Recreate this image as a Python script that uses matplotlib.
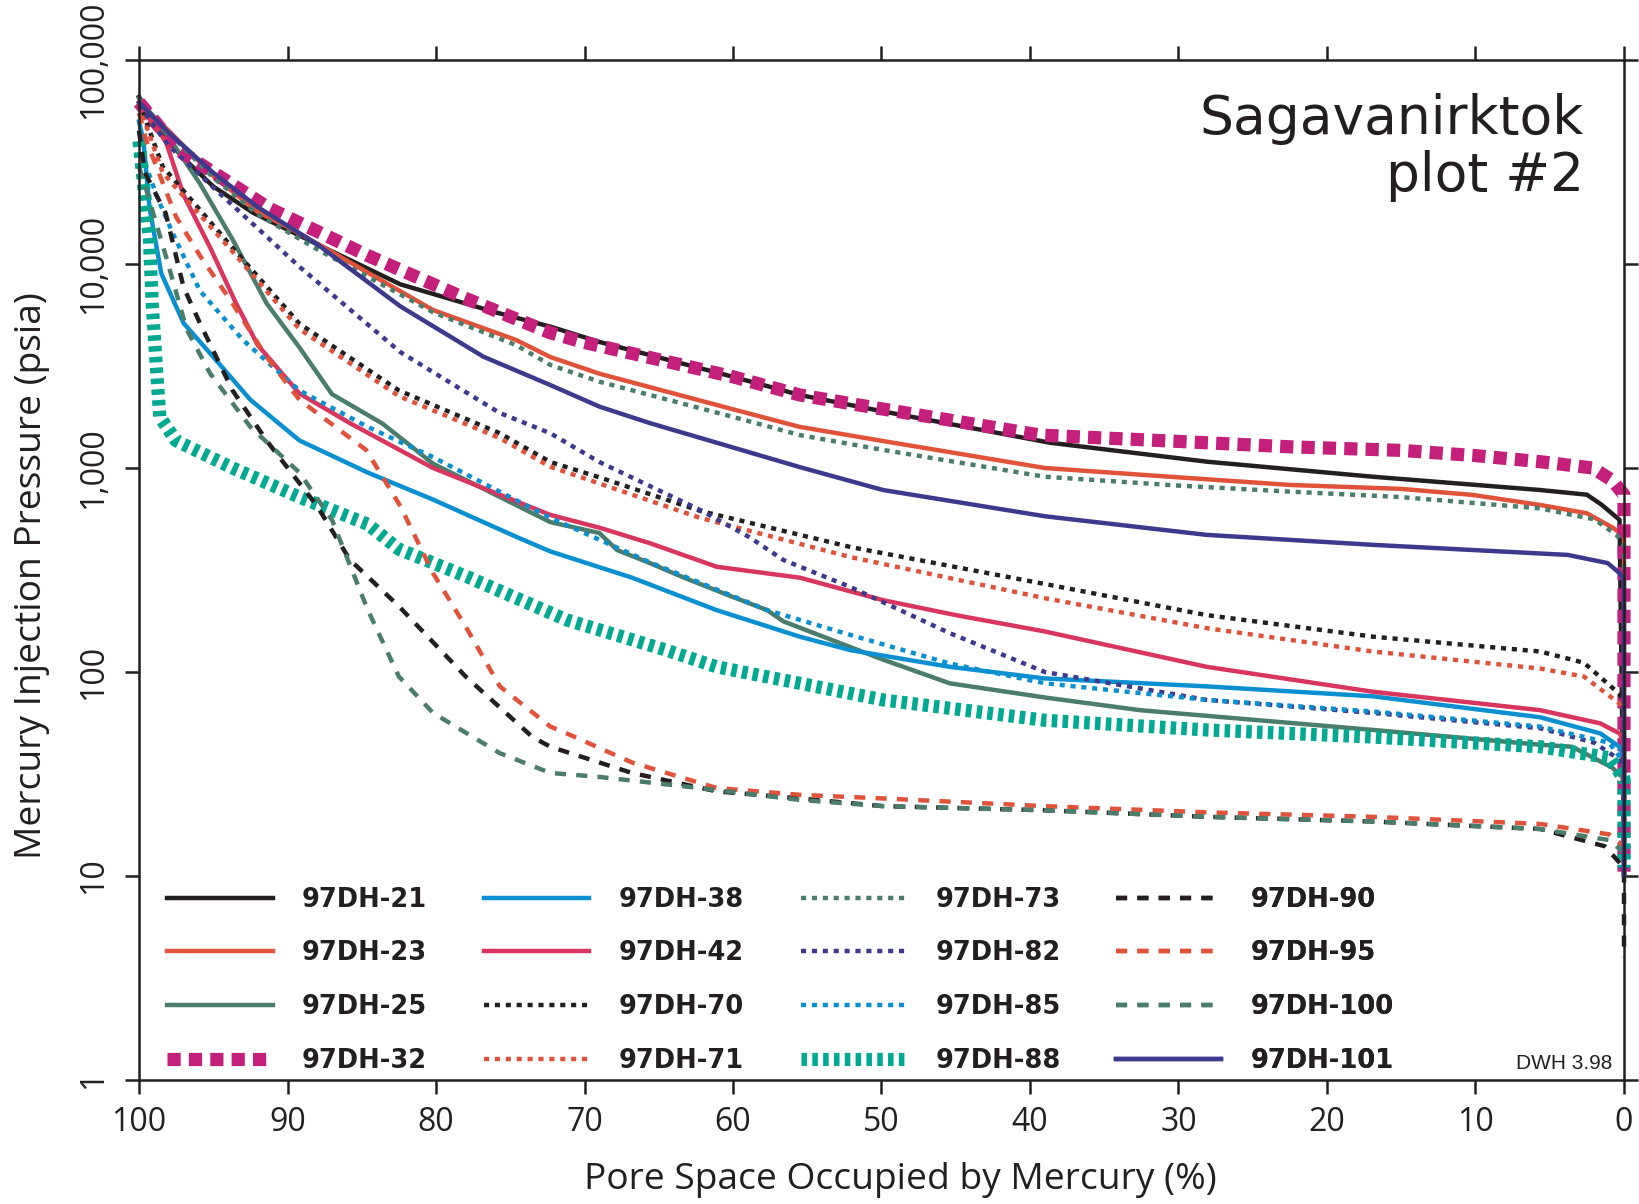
import numpy as np
import matplotlib
matplotlib.use("Agg")
import matplotlib.pyplot as plt
from matplotlib.ticker import FixedLocator, NullLocator

plt.rcParams['font.family'] = ['Open Sans', 'DejaVu Sans']

ink = '#231f20'

## data: pore space occupied by mercury (%) vs injection pressure (psia)
s_21 = [100, 99.3, 98.8, 97, 95, 92.3, 88, 82.4, 76, 72.3, 69, 60, 55.5, 50, 38.65, 28.1, 16.9, 5.65, 2.5, 1.5, 0.3, 0]
p_21 = [66000, 55000, 46000, 33000, 24000, 17800, 12500, 7950, 5800, 4930, 4150, 2800, 2280, 1900, 1330, 1074, 906, 780, 740, 660, 557, 12]

s_23 = [100, 98, 95, 92, 90, 88, 84, 80.2, 74.6, 72.3, 69, 60, 55.5, 50, 39, 30, 22.5, 15, 10.2, 5.65, 2.5, 0.7, 0, 0]
p_23 = [62000, 45000, 27000, 18000, 15200, 12600, 8570, 5950, 4240, 3500, 2900, 1940, 1590, 1360, 1000, 900, 826, 790, 738, 659, 600, 507, 460, 11]

s_25 = [100, 98.2, 95.9, 93.7, 91.4, 89.2, 87, 83.6, 80.2, 73.5, 72.3, 69, 67.8, 65.6, 63.4, 60, 57.7, 56.6, 49.9, 45.4, 39, 32.6, 16.9, 5.65, 3.5, 0.8, 0, 0]
p_25 = [65000, 44000, 24800, 13200, 6400, 3900, 2300, 1650, 1050, 600, 543, 480, 396, 342, 292, 233, 201, 177, 115, 88, 75, 65, 52, 44, 43, 34, 30, 10]

s_32 = [100, 97.3, 91.2, 84.6, 78.2, 72.3, 70.1, 60, 55.5, 50, 39.3, 30, 22.5, 15, 10, 5.65, 2.1, 0.8, 0, 0]
p_32 = [62000, 36000, 18700, 11000, 6870, 4600, 4140, 2800, 2280, 1950, 1450, 1350, 1270, 1220, 1150, 1074, 1000, 870, 740, 10.5]

s_38 = [100, 99.7, 99.3, 98.5, 97, 95.2, 92.5, 89.2, 84.6, 80.2, 74.6, 72.3, 66.8, 61.1, 55.5, 52.1, 45.4, 39, 28.1, 16.9, 5.65, 1.6, 0.3, 0, 0]
p_38 = [50000, 40000, 19000, 9000, 5130, 3640, 2160, 1365, 950, 700, 460, 390, 290, 201, 149, 128, 106, 93, 85, 76, 60, 50, 43, 38, 11]

s_42 = [100, 98.2, 97, 95.2, 93.5, 92, 89.2, 85.8, 80.2, 72.3, 69, 65.6, 61.1, 55.5, 49.9, 45, 39, 28.1, 16.9, 5.65, 1.6, 0.3, 0, 0]
p_42 = [60000, 40000, 21800, 12000, 6500, 4000, 2320, 1660, 1000, 589, 510, 428, 328, 290, 225, 190, 158, 106, 80, 65, 56, 50, 45, 12]

s_70 = [100, 98.4, 93.7, 89.2, 82.5, 75.7, 72.3, 69, 62.2, 52.1, 39, 28.1, 16.9, 5.65, 2.7, 0.3, 0, 0]
p_70 = [62000, 30000, 12000, 5100, 2400, 1480, 1070, 900, 616, 410, 270, 190, 149, 126, 111, 78, 70, 10]

s_71 = [100, 98.4, 93.7, 89.2, 82.5, 75.7, 72.3, 62.2, 52.1, 39, 28.1, 16.9, 5.65, 2.7, 0.3, 0, 0]
p_71 = [60000, 28000, 11500, 4800, 2250, 1400, 1014, 569, 366, 230, 164, 126, 104, 95, 70, 65, 10]

s_73 = [100, 98, 95, 92, 88, 84, 80.2, 74.6, 72.3, 69, 60, 55.5, 50, 39, 30, 22.5, 15, 5.65, 2, 0.5, 0, 0]
p_73 = [62000, 44000, 26500, 17500, 11800, 8200, 5800, 4000, 3200, 2650, 1780, 1450, 1230, 906, 820, 766, 720, 634, 560, 470, 420, 10]

s_82 = [100, 98, 94.8, 89.2, 82.4, 75.7, 72.3, 69, 62.2, 58.9, 56.6, 52.1, 45.4, 39, 28.1, 16.9, 5.65, 2, 0.5, 0, 0]
p_82 = [60000, 38000, 23000, 9700, 3700, 1860, 1480, 1070, 622, 458, 354, 261, 155, 100, 73, 63, 53, 45, 38, 35, 10]

s_85 = [100, 99.5, 98.8, 97.7, 95.9, 93, 89.2, 84.6, 80.2, 72.3, 65.6, 57.7, 52.1, 45.4, 39, 28.1, 16.9, 5.65, 1, 0, 0]
p_85 = [45000, 30000, 21500, 14000, 7400, 4240, 2400, 1590, 1130, 570, 345, 201, 152, 110, 88, 73, 64, 54, 45, 36, 11]

s_88 = [100, 99.3, 99.1, 98.8, 98.6, 97.5, 93.7, 89.2, 84.6, 82.5, 77.9, 71.2, 64.5, 61.1, 55.5, 49.9, 39, 28.1, 16.9, 5.65, 1, 0, 0]
p_88 = [40000, 13200, 6200, 2900, 1780, 1360, 1000, 720, 530, 400, 293, 180, 128, 106, 88, 73, 58, 52, 48, 43, 38, 30, 11]

s_90 = [100, 99.6, 98.2, 97, 95.9, 93.7, 91.4, 88, 85.8, 82.5, 78, 73.5, 72.3, 66.8, 61.1, 55.5, 49.9, 39, 28, 16.9, 5.65, 1.3, 0, 0]
p_90 = [45000, 28000, 17700, 7700, 5130, 2400, 1360, 650, 355, 210, 95, 48, 43, 32, 26, 24, 22, 21, 19.5, 18.5, 17, 14, 11, 4]

s_95 = [100, 99.5, 97.5, 95.9, 93.7, 91.4, 89.2, 84.7, 82.4, 80.2, 78, 75.7, 72.3, 71.2, 66.8, 61.1, 55.5, 49.9, 39, 28, 16.9, 5.65, 1, 0]
p_95 = [55000, 40000, 17000, 11000, 6400, 3500, 2160, 1225, 650, 305, 167, 85, 54, 50, 36, 27, 25, 24, 22, 20.5, 19.5, 18, 16, 14]

s_100 = [100, 99.5, 98.2, 96.8, 95.2, 92.5, 89.2, 87, 84.6, 82.5, 80.2, 75.7, 72.3, 69, 62.3, 55.5, 49.9, 39, 28, 16.9, 5.65, 1, 0, 0]
p_100 = [30000, 23000, 11000, 4800, 2900, 1590, 950, 556, 202, 95, 63, 40, 32, 30.6, 27, 23.6, 22, 21, 19.5, 18.5, 17, 15, 13, 10]

s_101 = [100, 98, 95, 92, 88, 82.4, 76.8, 72.3, 69, 65.6, 55.5, 49.9, 39, 28.1, 16.9, 3.8, 1.1, 0.3, 0, 0]
p_101 = [62000, 44000, 28000, 19000, 12500, 6200, 3510, 2550, 2000, 1660, 1010, 780, 580, 470, 420, 375, 342, 305, 280, 10]

x_ticks = [100, 90, 80, 70, 60, 50, 40, 30, 20, 10, 0]
y_ticks = [1, 10, 100, 1000, 10000, 100000]
y_labels = ['1', '10', '100', '1,000', '10,000', '100,000']

## styles
black = ink
orange = '#e0523a'
green = '#4a7d6b'
magenta = '#c41f7a'
blue = '#0a8fd0'
crimson = '#d8355f'
indigo = '#3d3a8e'
teal = '#00a98f'

solid = '-'
dotted = (0, (1.15, 1.3))
dashed = (0, (2.5, 2.3))
squares = (0, (1.0, 0.62))
bars = (0, (0.42, 0.4))

lw = 3.2
series = [
    ('97DH-21', s_21, p_21, black, solid, lw),
    ('97DH-23', s_23, p_23, orange, solid, lw),
    ('97DH-25', s_25, p_25, green, solid, lw),
    ('97DH-32', s_32, p_32, magenta, squares, 9.5),
    ('97DH-38', s_38, p_38, blue, solid, lw),
    ('97DH-42', s_42, p_42, crimson, solid, lw),
    ('97DH-70', s_70, p_70, black, dotted, lw),
    ('97DH-71', s_71, p_71, orange, dotted, lw),
    ('97DH-73', s_73, p_73, green, dotted, lw),
    ('97DH-82', s_82, p_82, indigo, dotted, lw),
    ('97DH-85', s_85, p_85, blue, dotted, lw),
    ('97DH-88', s_88, p_88, teal, bars, 9.5),
    ('97DH-90', s_90, p_90, black, dashed, lw),
    ('97DH-95', s_95, p_95, orange, dashed, lw),
    ('97DH-100', s_100, p_100, green, dashed, lw),
    ('97DH-101', s_101, p_101, indigo, solid, lw),
]

fig = plt.figure(figsize=(16.4, 12.04), dpi=100)
ax = fig.add_axes([139/1640, 1 - 1080/1204, 1485/1640, 1020/1204])

handles = []
for name, s, p, c, ls, w in series:
    ln, = ax.plot(s, p, color=c, linestyle=ls, linewidth=w, label=name, clip_on=False)
    handles.append(ln)

ax.set_yscale('log')
ax.set_xlim(100, 0)
ax.set_ylim(1, 100000)

ax.xaxis.set_major_locator(FixedLocator(x_ticks))
ax.set_xticklabels([str(v) for v in x_ticks])
ax.yaxis.set_major_locator(FixedLocator(y_ticks))
ax.yaxis.set_minor_locator(NullLocator())
ax.set_yticklabels(y_labels, rotation=90, va='center')

for sp in ax.spines.values():
    sp.set_linewidth(1.8)
    sp.set_color(ink)

ax.tick_params(axis='both', which='major', direction='out', length=10, width=1.8,
               color=ink, top=True, right=True, labelsize=23, labelcolor=ink)
ax.tick_params(axis='x', pad=9)
ax.tick_params(axis='y', pad=11)

ax.set_xlabel('Pore Space Occupied by Mercury (%)', fontsize=26.7, color=ink)
ax.xaxis.set_label_coords(0.513, -0.08)
ax.set_ylabel('Mercury Injection Pressure (psia)', fontsize=26.7, color=ink)
ax.yaxis.set_label_coords(-0.06, 0.495)

# title, top right
ax.text(0.973, 0.927, 'Sagavanirktok', transform=ax.transAxes, ha='right', va='baseline',
        fontsize=38.5, family='DejaVu Sans', color=ink)
ax.text(0.973, 0.872, 'plot #2', transform=ax.transAxes, ha='right', va='baseline',
        fontsize=38.5, family='DejaVu Sans', color=ink)

ax.text(0.992, 0.016, 'DWH 3.98', transform=ax.transAxes, ha='right', va='center',
        fontsize=15, family='Liberation Sans', color=ink)

# legend: four columns of four
col_x = [0.019, 0.232, 0.4455, 0.658]
for i, x0 in enumerate(col_x):
    leg = ax.legend(handles=handles[4*i:4*i+4], loc='lower left', bbox_to_anchor=(x0, 0.006),
                    frameon=False, borderpad=0, borderaxespad=0, handlelength=4.1,
                    handletextpad=1.15, labelspacing=1.08,
                    prop={'family': 'DejaVu Sans', 'weight': 'bold', 'size': 18.5})
    for t in leg.get_texts():
        t.set_color(ink)
    ax.add_artist(leg)

fig.savefig('out.png', dpi=100)
